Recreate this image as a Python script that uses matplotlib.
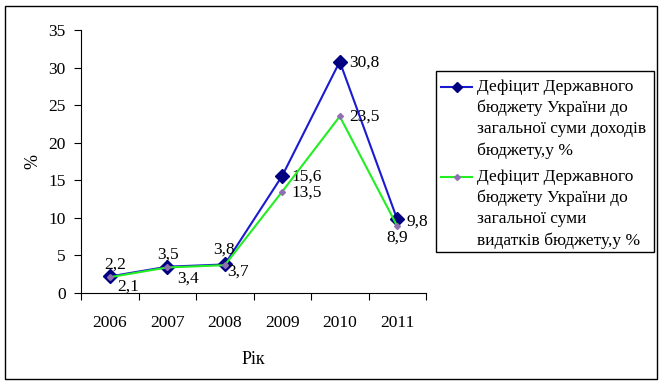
import matplotlib.pyplot as plt
from matplotlib.patches import Rectangle
from matplotlib.lines import Line2D

plt.rcParams['font.family'] = ['Liberation Serif', 'DejaVu Serif']

# data
years = ["2006", "2007", "2008", "2009", "2010", "2011"]
deficit_income = [2.2, 3.5, 3.8, 15.6, 30.8, 9.8]
deficit_spend = [2.1, 3.4, 3.7, 13.5, 23.5, 8.9]
label_income = "Дефіцит Державного\nбюджету України до\nзагальної суми доходів\nбюджету,у %"
label_spend = "Дефіцит Державного\nбюджету України до\nзагальної суми\nвидатків бюджету,у %"

# label offsets in pixels (dx, dy)
off_income = [(5, 12), (1, 12), (-1, 15), (24, -1), (25, -1), (20, -2)]
off_spend = [(18, -9), (21, -11), (13, -6), (24, -1), (25, 0), (0, -12)]

W, H = 663, 385
fig = plt.figure(figsize=(W / 100, H / 100), dpi=100)
ax = fig.add_axes([81 / W, 92 / H, 345 / W, 263 / H])

styles = [
    dict(color="#1A1AD0", lw=1.5, marker="D", ms=7, mfc="#000080", mec="#000080"),
    dict(color="#22EE22", lw=1.5, marker="D", ms=3, mfc="#9070B0", mec="#9070B0"),
]

x = list(range(len(years)))
ax.plot(x, deficit_income, zorder=3, **styles[0])
ax.plot(x, deficit_spend, zorder=4, **styles[1])

for vals, offs in [(deficit_income, off_income), (deficit_spend, off_spend)]:
    for i, v in enumerate(vals):
        ax.annotate(f"{v}".replace(".", ","), (x[i], v), xytext=offs[i],
                    textcoords="offset pixels", ha="center", va="center", fontsize=12.5)

ax.set_xlim(-0.5, len(years) - 0.5)
ax.set_ylim(0, 35)
ax.set_yticks(range(0, 36, 5))
ax.set_xticks([i - 0.5 for i in range(len(years) + 1)], minor=False)
ax.set_xticklabels([])
ax.set_xticks(x, minor=True)
ax.set_xticklabels(years, minor=True)
ax.tick_params(axis="x", which="minor", length=0, pad=16, labelsize=12.5)
ax.tick_params(axis="x", which="major", direction="out", length=5)
ax.tick_params(axis="y", direction="out", length=5, labelsize=12.5, pad=6)
ax.spines["top"].set_visible(False)
ax.spines["right"].set_visible(False)
ax.set_xlabel("Рік", fontsize=13, labelpad=14)
ax.set_ylabel("%", fontsize=13)
ax.yaxis.set_label_coords(-40 / 345, 0.5)

# legend, drawn by hand so the key sits at the first line of each entry
fig.patches.append(Rectangle((436 / W, 1 - 252 / H), 218 / W, 181 / H, transform=fig.transFigure,
                             fill=False, edgecolor="black", lw=1))
entry_top = [87, 177]
for label, st, ty in zip([label_income, label_spend], styles, entry_top):
    s = dict(st)
    s["ms"] = 5 if s["ms"] > 5 else 3
    fig.add_artist(Line2D([441 / W, 456.5 / W, 472 / W], [1 - ty / H] * 3,
                          transform=fig.transFigure, markevery=[1], **s))
    fig.text(477 / W, 1 - (ty - 8) / H, label, ha="left", va="top", fontsize=12.5,
             linespacing=1.4)

fig.patches.append(Rectangle((5 / W, 6 / H), 652 / W, 373 / H, transform=fig.transFigure,
                             fill=False, edgecolor="black", lw=1))

fig.savefig("out.png", dpi=100)
